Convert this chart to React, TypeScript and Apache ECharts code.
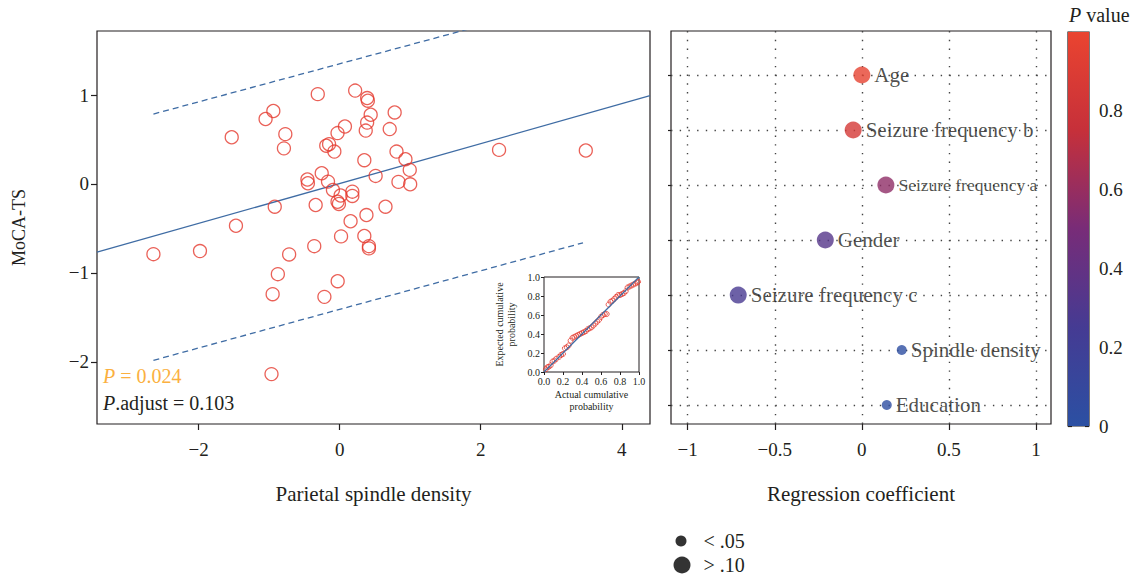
import React, { useEffect, useRef } from "react";
import * as echarts from "echarts";

// ---------- Left panel: scatter of MoCA-TS vs parietal spindle density ----------
const spindleX = [
  -2.64, -1.98, -1.53, -1.47, -1.05, -0.94, -0.77, -0.79, -0.31, 0.22,
  0.39, 0.4, 0.44, 0.39, 0.37, 0.075, -0.03, -0.19, -0.15, -0.075,
  0.35, 0.51, -0.254, -0.457, -0.45, -0.165, -0.095, 0.18, 0.18, 0.014,
  -0.03, -0.01, -0.34, -0.92, 0.38, 0.155, 0.78, 0.71, 0.806, 0.933,
  0.994, 0.834, 1.0, 0.65, 2.26, 3.49, 0.02, 0.35, 0.415, 0.415,
  -0.36, -0.716, -0.876, -0.95, -0.028, -0.216, -0.966,
];
const mocaY = [
  -0.79, -0.755, 0.525, -0.47, 0.73, 0.82, 0.56, 0.4, 1.01, 1.05,
  0.966, 0.936, 0.778, 0.69, 0.6, 0.646, 0.572, 0.43, 0.447, 0.364,
  0.267, 0.09, 0.12, 0.05, 0.008, 0.026, -0.068, -0.087, -0.135, -0.13,
  -0.2, -0.225, -0.237, -0.256, -0.35, -0.42, 0.804, 0.617, 0.364, 0.278,
  0.158, 0.023, -0.004, -0.256, 0.383, 0.376, -0.59, -0.586, -0.7, -0.725,
  -0.7, -0.793, -1.015, -1.24, -1.094, -1.27, -2.139,
];
const fitLine = [[-3.44, -0.767], [4.4, 0.992]];
const upperBand = [[-2.64, 0.786], [3.49, 2.098]];
const lowerBand = [[-2.64, -1.984], [3.45, -0.662]];
const leftXTicks = [-2, 0, 2, 4];
const leftYTicks = [-2, -1, 0, 1];
const leftXRange = [-3.44, 4.4];
const leftYRange = [-2.7, 1.72];
const pText = "0.024";
const pAdjText = "0.103";

// ---------- Inset: P-P plot ----------
const ppActual = [
  0.02, 0.035, 0.05, 0.07, 0.09, 0.11, 0.13, 0.16, 0.18, 0.2,
  0.22, 0.24, 0.26, 0.28, 0.3, 0.32, 0.34, 0.36, 0.38, 0.4,
  0.42, 0.44, 0.46, 0.48, 0.5, 0.52, 0.54, 0.56, 0.58, 0.6,
  0.62, 0.64, 0.66, 0.68, 0.7, 0.72, 0.74, 0.76, 0.78, 0.8,
  0.82, 0.84, 0.86, 0.88, 0.9, 0.92, 0.94, 0.96, 0.98, 0.99,
];
const ppExpected = [
  0.03, 0.05, 0.055, 0.07, 0.11, 0.12, 0.14, 0.16, 0.18, 0.19,
  0.25, 0.26, 0.28, 0.33, 0.36, 0.37, 0.38, 0.39, 0.4, 0.41,
  0.42, 0.43, 0.45, 0.46, 0.47, 0.49, 0.51, 0.53, 0.55, 0.58,
  0.6, 0.61, 0.61, 0.71, 0.74, 0.75, 0.77, 0.79, 0.81, 0.81,
  0.82, 0.83, 0.85, 0.89, 0.9, 0.91, 0.92, 0.93, 0.94, 0.95,
];
const ppLine = [[0, 0], [1, 1]];

// ---------- Right panel: regression coefficients ----------
const factors = [
  "Education",
  "Spindle density",
  "Seizure frequency c",
  "Gender",
  "Seizure frequency a",
  "Seizure frequency b",
  "Age",
];
const coefs = [0.143, 0.229, -0.71, -0.21, 0.138, -0.05, 0.0];
const pvals = [0.03, 0.024, 0.27, 0.33, 0.57, 0.85, 0.97];
const coefTicks = [-1, -0.5, 0, 0.5, 1];
const coefRange = [-1.096, 1.086];
const rowRange = [0.655, 7.8];
const colorRange = [0, 1];
const sizeLegend = ["< .05", "> .10"];

const FONT = "'Liberation Serif', 'DejaVu Serif', serif";
const INK = "#231f20";
const RED = "#e53a2e";
const BLUE = "#3f6ca4";
const gradStops = ["#2b50a3", "#453b93", "#782c78", "#c6303a", "#ea4430"];

const fmtMinus = (v: number) => String(v).replace("-", "\u2212");

export default function App() {
  const ref = useRef<HTMLDivElement>(null);
  useEffect(() => {
    if (!ref.current) return;
    const chart = echarts.init(ref.current, null, { renderer: "svg" });

    const scatterData = spindleX.map((x, i) => [x, mocaY[i]]);
    const ppData = ppActual.map((x, i) => [x, ppExpected[i]]);
    const rows = factors.map((name, i) => ({
      name,
      value: [coefs[i], i + 1, pvals[i]],
      label: name === "Seizure frequency a" ? { fontSize: 17.5 } : undefined,
    }));
    const smallRows = rows.filter((r) => r.value[2] < 0.05);
    const bigRows = rows.filter((r) => r.value[2] >= 0.05);

    const baseTick = { lineStyle: { color: INK, width: 1.2 } };
    const labelStyle = { color: INK, fontFamily: FONT, fontSize: 19 };
    const noLine = { show: false, onZero: false };

    const option: any = {
      animation: false,
      textStyle: { fontFamily: FONT },
      title: {
        left: 1064,
        top: 0,
        text: "{i|P} value",
        textStyle: {
          fontFamily: FONT,
          fontSize: 20,
          fontWeight: "normal",
          color: INK,
          rich: {
            i: { fontFamily: FONT, fontSize: 20, fontStyle: "italic", color: INK },
          },
        },
      },
      legend: [
        {
          left: 670.5,
          top: 526,
          orient: "vertical",
          itemWidth: 11,
          itemHeight: 11,
          textStyle: { fontFamily: FONT, fontSize: 20, color: INK, padding: [0, 0, 0, 12] },
          data: [{ name: sizeLegend[0], icon: "circle", itemStyle: { color: "#000" } }],
          selectedMode: false,
        },
        {
          left: 668.5,
          top: 550,
          orient: "vertical",
          itemWidth: 17,
          itemHeight: 17,
          textStyle: { fontFamily: FONT, fontSize: 20, color: INK, padding: [0, 0, 0, 8] },
          data: [{ name: sizeLegend[1], icon: "circle", itemStyle: { color: "#000" } }],
          selectedMode: false,
        },
      ],
      visualMap: {
        show: false,
        type: "continuous",
        min: colorRange[0],
        max: colorRange[1],
        dimension: 2,
        seriesIndex: [6, 7],
        inRange: { color: gradStops },
      },
      grid: [
        { left: 97, top: 31, width: 553, height: 393, show: true, borderColor: INK, borderWidth: 1.2 },
        { left: 544, top: 277, width: 95, height: 95, show: true, borderColor: INK, borderWidth: 1 },
        { left: 671, top: 31, width: 380, height: 393, show: true, borderColor: INK, borderWidth: 1.2 },
        { left: 1068, top: 32, width: 21, height: 394, show: true, borderColor: INK, borderWidth: 1.2 },
      ],
      xAxis: [
        {
          gridIndex: 0,
          type: "value",
          min: leftXRange[0],
          max: leftXRange[1],
          axisLine: noLine,
          splitLine: { show: false },
          axisTick: { show: true, length: 6, customValues: leftXTicks, ...baseTick },
          axisLabel: { customValues: leftXTicks, formatter: fmtMinus, margin: 16, ...labelStyle },
          name: "Parietal spindle density",
          nameLocation: "middle",
          nameGap: 59,
          nameTextStyle: { fontFamily: FONT, fontSize: 21, color: INK },
        },
        {
          gridIndex: 1,
          type: "value",
          min: 0,
          max: 1,
          interval: 0.2,
          axisLine: noLine,
          splitLine: { show: false },
          axisTick: { show: true, length: 3, lineStyle: { color: INK } },
          axisLabel: { formatter: (v: number) => v.toFixed(1), margin: 4, color: INK, fontFamily: FONT, fontSize: 10 },
          name: "Actual cumulative\nprobability",
          nameLocation: "middle",
          nameGap: 16,
          nameTextStyle: { fontFamily: FONT, fontSize: 10, color: INK, lineHeight: 12, verticalAlign: "top" },
        },
        {
          gridIndex: 2,
          type: "value",
          min: coefRange[0],
          max: coefRange[1],
          axisLine: noLine,
          splitLine: { show: false },
          axisTick: { show: true, length: 6, customValues: coefTicks, ...baseTick },
          axisLabel: { customValues: coefTicks, formatter: fmtMinus, margin: 16, ...labelStyle },
          name: "Regression coefficient",
          nameLocation: "middle",
          nameGap: 59,
          nameTextStyle: { fontFamily: FONT, fontSize: 21, color: INK },
        },
        {
          gridIndex: 3,
          type: "category",
          data: ["p"],
          show: false,
        },
      ],
      yAxis: [
        {
          gridIndex: 0,
          type: "value",
          min: leftYRange[0],
          max: leftYRange[1],
          axisLine: noLine,
          splitLine: { show: false },
          axisTick: { show: true, length: 6, customValues: leftYTicks, ...baseTick },
          axisLabel: { customValues: leftYTicks, formatter: fmtMinus, margin: 8, ...labelStyle },
          name: "MoCA-TS",
          nameLocation: "middle",
          nameGap: 69,
          nameTextStyle: { fontFamily: FONT, fontSize: 18, color: INK },
        },
        {
          gridIndex: 1,
          type: "value",
          min: 0,
          max: 1,
          interval: 0.2,
          axisLine: noLine,
          splitLine: { show: false },
          axisTick: { show: true, length: 3, lineStyle: { color: INK } },
          axisLabel: { formatter: (v: number) => v.toFixed(1), margin: 4, color: INK, fontFamily: FONT, fontSize: 10 },
          name: "Expected cumulative\nprobability",
          nameLocation: "middle",
          nameGap: 27,
          nameTextStyle: { fontFamily: FONT, fontSize: 10, color: INK, lineHeight: 12 },
        },
        {
          gridIndex: 2,
          type: "value",
          min: rowRange[0],
          max: rowRange[1],
          axisLine: noLine,
          splitLine: { show: false },
          axisTick: { show: true, length: 3, customValues: factors.map((_, i) => i + 1), ...baseTick },
          axisLabel: { show: false },
        },
        {
          gridIndex: 3,
          type: "value",
          position: "right",
          min: colorRange[0],
          max: colorRange[1],
          interval: 0.2,
          axisLine: noLine,
          splitLine: { show: false },
          axisTick: { show: true, inside: true, length: 4, lineStyle: { color: INK, width: 1.2 } },
          axisLabel: {
            showMaxLabel: false,
            margin: 10,
            formatter: (v: number) => (v === 0 ? "0" : v.toFixed(1)),
            ...labelStyle,
          },
        },
        {
          gridIndex: 3,
          type: "value",
          position: "left",
          min: colorRange[0],
          max: colorRange[1],
          interval: 0.2,
          axisLine: noLine,
          splitLine: { show: false },
          axisTick: { show: true, inside: true, length: 4, lineStyle: { color: INK, width: 1.2 } },
          axisLabel: { show: false },
        },
      ],
      graphic: [
        {
          type: "text",
          left: 103,
          top: 366,
          style: {
            text: "{i|P} = " + pText,
            fill: "#fbb040",
            font: `20px ${FONT}`,
            rich: { i: { fontStyle: "italic", fontFamily: FONT, fontSize: 20, fill: "#fbb040" } },
          },
        },
        {
          type: "text",
          left: 103,
          top: 393,
          style: {
            text: "{i|P}.adjust = " + pAdjText,
            fill: INK,
            font: `20px ${FONT}`,
            rich: { i: { fontStyle: "italic", fontFamily: FONT, fontSize: 20, fill: INK } },
          },
        },
      ],
      series: [
        {
          type: "scatter",
          xAxisIndex: 0,
          yAxisIndex: 0,
          data: scatterData,
          symbol: "circle",
          symbolSize: 13,
          itemStyle: { color: "transparent", borderColor: RED, borderWidth: 1.3 },
          z: 3,
        },
        {
          type: "line",
          xAxisIndex: 0,
          yAxisIndex: 0,
          data: fitLine,
          symbol: "none",
          lineStyle: { color: BLUE, width: 1.3 },
          clip: true,
          z: 2,
        },
        {
          type: "line",
          xAxisIndex: 0,
          yAxisIndex: 0,
          data: upperBand,
          symbol: "none",
          lineStyle: { color: BLUE, width: 1.3, type: [6, 4] },
          clip: true,
          z: 2,
        },
        {
          type: "line",
          xAxisIndex: 0,
          yAxisIndex: 0,
          data: lowerBand,
          symbol: "none",
          lineStyle: { color: BLUE, width: 1.3, type: [6, 4] },
          clip: true,
          z: 2,
        },
        {
          type: "scatter",
          xAxisIndex: 1,
          yAxisIndex: 1,
          data: ppData,
          symbol: "circle",
          symbolSize: 5,
          itemStyle: { color: "transparent", borderColor: RED, borderWidth: 1 },
          z: 3,
        },
        {
          type: "line",
          xAxisIndex: 1,
          yAxisIndex: 1,
          data: ppLine,
          symbol: "none",
          lineStyle: { color: BLUE, width: 1.2 },
          z: 4,
        },
        {
          type: "scatter",
          name: sizeLegend[0],
          xAxisIndex: 2,
          yAxisIndex: 2,
          data: smallRows,
          symbol: "circle",
          symbolSize: 10,
          label: {
            show: true,
            position: "right",
            distance: 4,
            formatter: (p: any) => p.name,
            fontFamily: FONT,
            fontSize: 21,
            color: INK,
          },
          markLine: {
            silent: true,
            symbol: "none",
            label: { show: false },
            lineStyle: { color: "#444", width: 1.4, type: [1.4, 7.3] },
            data: [
              ...coefTicks.map((v) => ({ xAxis: v })),
              ...factors.map((_, i) => ({ yAxis: i + 1 })),
            ],
            z: 1,
          },
          z: 3,
        },
        {
          type: "scatter",
          name: sizeLegend[1],
          xAxisIndex: 2,
          yAxisIndex: 2,
          data: bigRows,
          symbol: "circle",
          symbolSize: 17,
          label: {
            show: true,
            position: "right",
            distance: 4,
            formatter: (p: any) => p.name,
            fontFamily: FONT,
            fontSize: 21,
            color: INK,
          },
          z: 3,
        },
        {
          type: "bar",
          xAxisIndex: 3,
          yAxisIndex: 3,
          data: [colorRange[1]],
          barWidth: "100%",
          silent: true,
          itemStyle: {
            color: new echarts.graphic.LinearGradient(
              0,
              1,
              0,
              0,
              gradStops.map((c, i) => ({ offset: i / (gradStops.length - 1), color: c }))
            ),
          },
          z: 1,
        },
      ],
    };
    chart.setOption(option);
    return () => chart.dispose();
  }, []);
  return (
    <div
      ref={ref}
      style={{ position: "fixed", left: 0, top: 0, width: 1135, height: 580, background: "#fff" }}
    />
  );
}
